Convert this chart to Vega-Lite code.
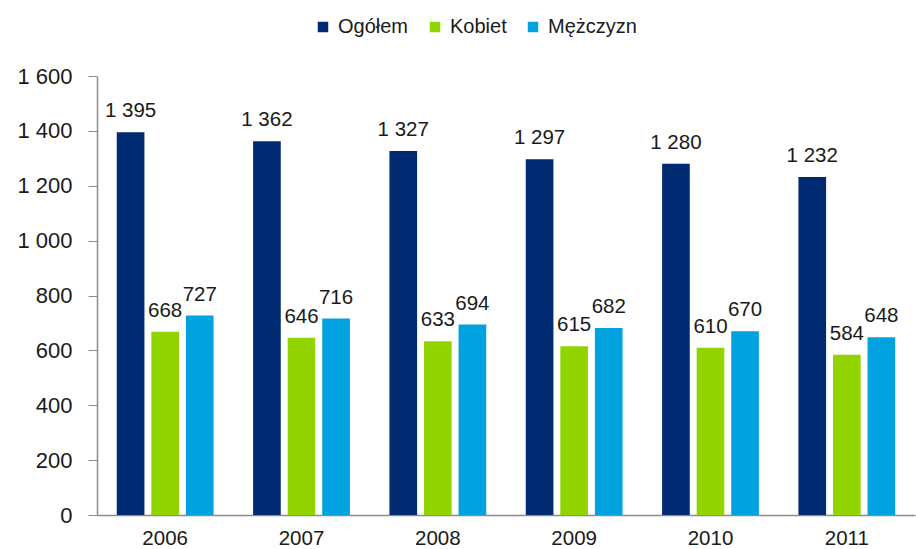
{
  "$schema": "https://vega.github.io/schema/vega-lite/v6.json",
  "width": 818,
  "height": 439,
  "autosize": {"type": "none"},
  "padding": {"left": 97, "top": 76, "right": 1, "bottom": 34},
  "background": "white",
  "config": {
    "view": {"stroke": null},
    "font": "Liberation Sans",
    "locale": {"number": {"decimal": ",", "thousands": " ", "grouping": [3], "currency": ["", " zł"]}}
  },
  "data": {
    "values": [
      {"rok": "2006", "seria": "Ogółem", "wartosc": 1395},
      {"rok": "2006", "seria": "Kobiet", "wartosc": 668},
      {"rok": "2006", "seria": "Mężczyzn", "wartosc": 727},
      {"rok": "2007", "seria": "Ogółem", "wartosc": 1362},
      {"rok": "2007", "seria": "Kobiet", "wartosc": 646},
      {"rok": "2007", "seria": "Mężczyzn", "wartosc": 716},
      {"rok": "2008", "seria": "Ogółem", "wartosc": 1327},
      {"rok": "2008", "seria": "Kobiet", "wartosc": 633},
      {"rok": "2008", "seria": "Mężczyzn", "wartosc": 694},
      {"rok": "2009", "seria": "Ogółem", "wartosc": 1297},
      {"rok": "2009", "seria": "Kobiet", "wartosc": 615},
      {"rok": "2009", "seria": "Mężczyzn", "wartosc": 682},
      {"rok": "2010", "seria": "Ogółem", "wartosc": 1280},
      {"rok": "2010", "seria": "Kobiet", "wartosc": 610},
      {"rok": "2010", "seria": "Mężczyzn", "wartosc": 670},
      {"rok": "2011", "seria": "Ogółem", "wartosc": 1232},
      {"rok": "2011", "seria": "Kobiet", "wartosc": 584},
      {"rok": "2011", "seria": "Mężczyzn", "wartosc": 648}
    ]
  },
  "encoding": {
    "x": {
      "field": "rok", "type": "nominal",
      "scale": {"paddingInner": 0.29, "paddingOuter": 0.145},
      "axis": {
        "title": null, "labelAngle": 0, "ticks": false,
        "domainColor": "#8c8c8c", "domainWidth": 1.5,
        "labelFontSize": 20.5, "labelColor": "#1a1a1a", "labelPadding": 13
      }
    },
    "xOffset": {
      "field": "seria", "type": "nominal",
      "sort": ["Ogółem", "Kobiet", "Mężczyzn"],
      "scale": {"paddingInner": 0.2, "paddingOuter": 0}
    },
    "y": {
      "field": "wartosc", "type": "quantitative",
      "scale": {"domain": [0, 1600], "nice": false},
      "axis": {
        "title": null, "grid": false,
        "values": [0, 200, 400, 600, 800, 1000, 1200, 1400, 1600],
        "format": ",d",
        "domainColor": "#8c8c8c", "domainWidth": 1.5,
        "tickColor": "#8c8c8c", "tickSize": 9,
        "labelFontSize": 22, "labelColor": "#1a1a1a", "labelPadding": 16
      }
    }
  },
  "layer": [
    {
      "mark": {"type": "bar"},
      "encoding": {
        "color": {
          "field": "seria", "type": "nominal",
          "sort": ["Ogółem", "Kobiet", "Mężczyzn"],
          "scale": {"domain": ["Ogółem", "Kobiet", "Mężczyzn"], "range": ["#002A72", "#92D400", "#00A3E0"]},
          "legend": {
            "title": null, "orient": "none", "direction": "horizontal",
            "legendX": 216, "legendY": -59,
            "symbolType": "square", "symbolSize": 110, "symbolStrokeWidth": 0,
            "labelFontSize": 20, "labelColor": "#1a1a1a", "labelOffset": 5,
            "columnPadding": 16
          }
        }
      }
    },
    {
      "mark": {"type": "text", "baseline": "bottom", "dy": -11, "fontSize": 20.5, "color": "#1a1a1a"},
      "encoding": {
        "text": {"field": "wartosc", "type": "quantitative", "format": ",d"}
      }
    }
  ]
}
